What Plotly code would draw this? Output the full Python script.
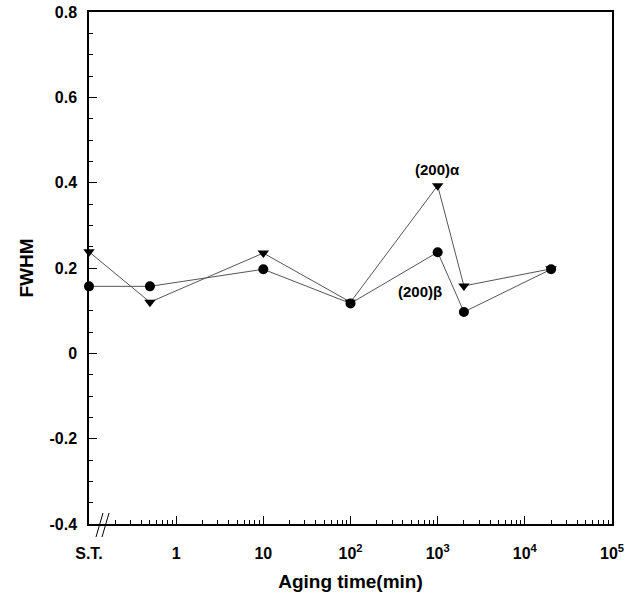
import plotly.graph_objects as go

# Data
time_labels = ["S.T.", "0.5", "10", "100", "1000", "2000", "20000"]
time_values = [0.1, 0.5, 10, 100, 1000, 2000, 20000]
fwhm_alpha = [0.238, 0.12, 0.235, 0.12, 0.393, 0.158, 0.198]
fwhm_beta = [0.157, 0.157, 0.197, 0.117, 0.237, 0.097, 0.197]

xtick_vals = [0.1, 1, 10, 100, 1000, 10000, 100000]
xtick_text = ["S.T.", "1", "10", "10<sup>2</sup>", "10<sup>3</sup>", "10<sup>4</sup>", "10<sup>5</sup>"]
ytick_vals = [-0.4, -0.2, 0, 0.2, 0.4, 0.6, 0.8]
ytick_text = ["-0.4", "-0.2", "0", "0.2", "0.4", "0.6", "0.8"]

FONT = "Liberation Sans, Arial, sans-serif"

minor_x = [k * 10.0 ** n for n in range(-1, 5) for k in range(2, 10)]
minor_x = [v for v in minor_x if v > 0.15]

fig = go.Figure()
fig.add_trace(go.Scatter(
    x=time_values, y=fwhm_alpha, mode="lines+markers",
    line=dict(color="#555555", width=1),
    marker=dict(symbol="triangle-down", size=10, color="black"),
    cliponaxis=False, showlegend=False))
fig.add_trace(go.Scatter(
    x=time_values, y=fwhm_beta, mode="lines+markers",
    line=dict(color="#555555", width=1),
    marker=dict(symbol="circle", size=10, color="black"),
    cliponaxis=False, showlegend=False))

fig.update_layout(
    width=629, height=594,
    margin=dict(l=89, r=17, t=12, b=70),
    paper_bgcolor="white", plot_bgcolor="white",
    font=dict(family=FONT, size=14, color="black"),
    xaxis=dict(
        type="log", range=[-1, 5], automargin=False,
        tickvals=xtick_vals, ticktext=xtick_text,
        ticks="inside", ticklen=8, tickcolor="black", tickwidth=1,
        ticklabelstandoff=14,
        showline=True, linecolor="black", linewidth=1.5, mirror=True,
        showgrid=False, zeroline=False,
        tickfont=dict(family=FONT, size=16, weight="bold"),
        minor=dict(tickvals=minor_x, ticks="inside", ticklen=4, tickcolor="black", showgrid=False),
        title=dict(text="Aging time(min)", font=dict(family=FONT, size=19, weight="bold"), standoff=14),
    ),
    yaxis=dict(
        range=[-0.4, 0.8], automargin=False,
        tickvals=ytick_vals, ticktext=ytick_text,
        ticks="inside", ticklen=8, tickcolor="black", tickwidth=1,
        ticklabelstandoff=7,
        showline=True, linecolor="black", linewidth=1.5, mirror=True,
        showgrid=False, zeroline=False,
        tickfont=dict(family=FONT, size=16, weight="bold"),
        minor=dict(dtick=0.05, ticks="inside", ticklen=4, tickcolor="black", showgrid=False),
        title=dict(text="FWHM", font=dict(family=FONT, size=19, weight="bold"), standoff=11),
    ),
    annotations=[
        dict(x=3.0, y=0.432, xref="x", yref="y", text="<b>(200)α</b>", showarrow=False,
             font=dict(family=FONT, size=15, color="black")),
        dict(x=2.795, y=0.145, xref="x", yref="y", text="<b>(200)β</b>", showarrow=False,
             font=dict(family=FONT, size=15, color="black")),
    ],
    shapes=[
        dict(type="line", xref="paper", yref="paper", x0=(96-89)/523, y0=(524-537)/512,
             x1=(103-89)/523, y1=(524-513)/512, line=dict(color="black", width=1)),
        dict(type="line", xref="paper", yref="paper", x0=(102-89)/523, y0=(524-537)/512,
             x1=(109-89)/523, y1=(524-513)/512, line=dict(color="black", width=1)),
    ],
)

fig.write_html("out.html")
